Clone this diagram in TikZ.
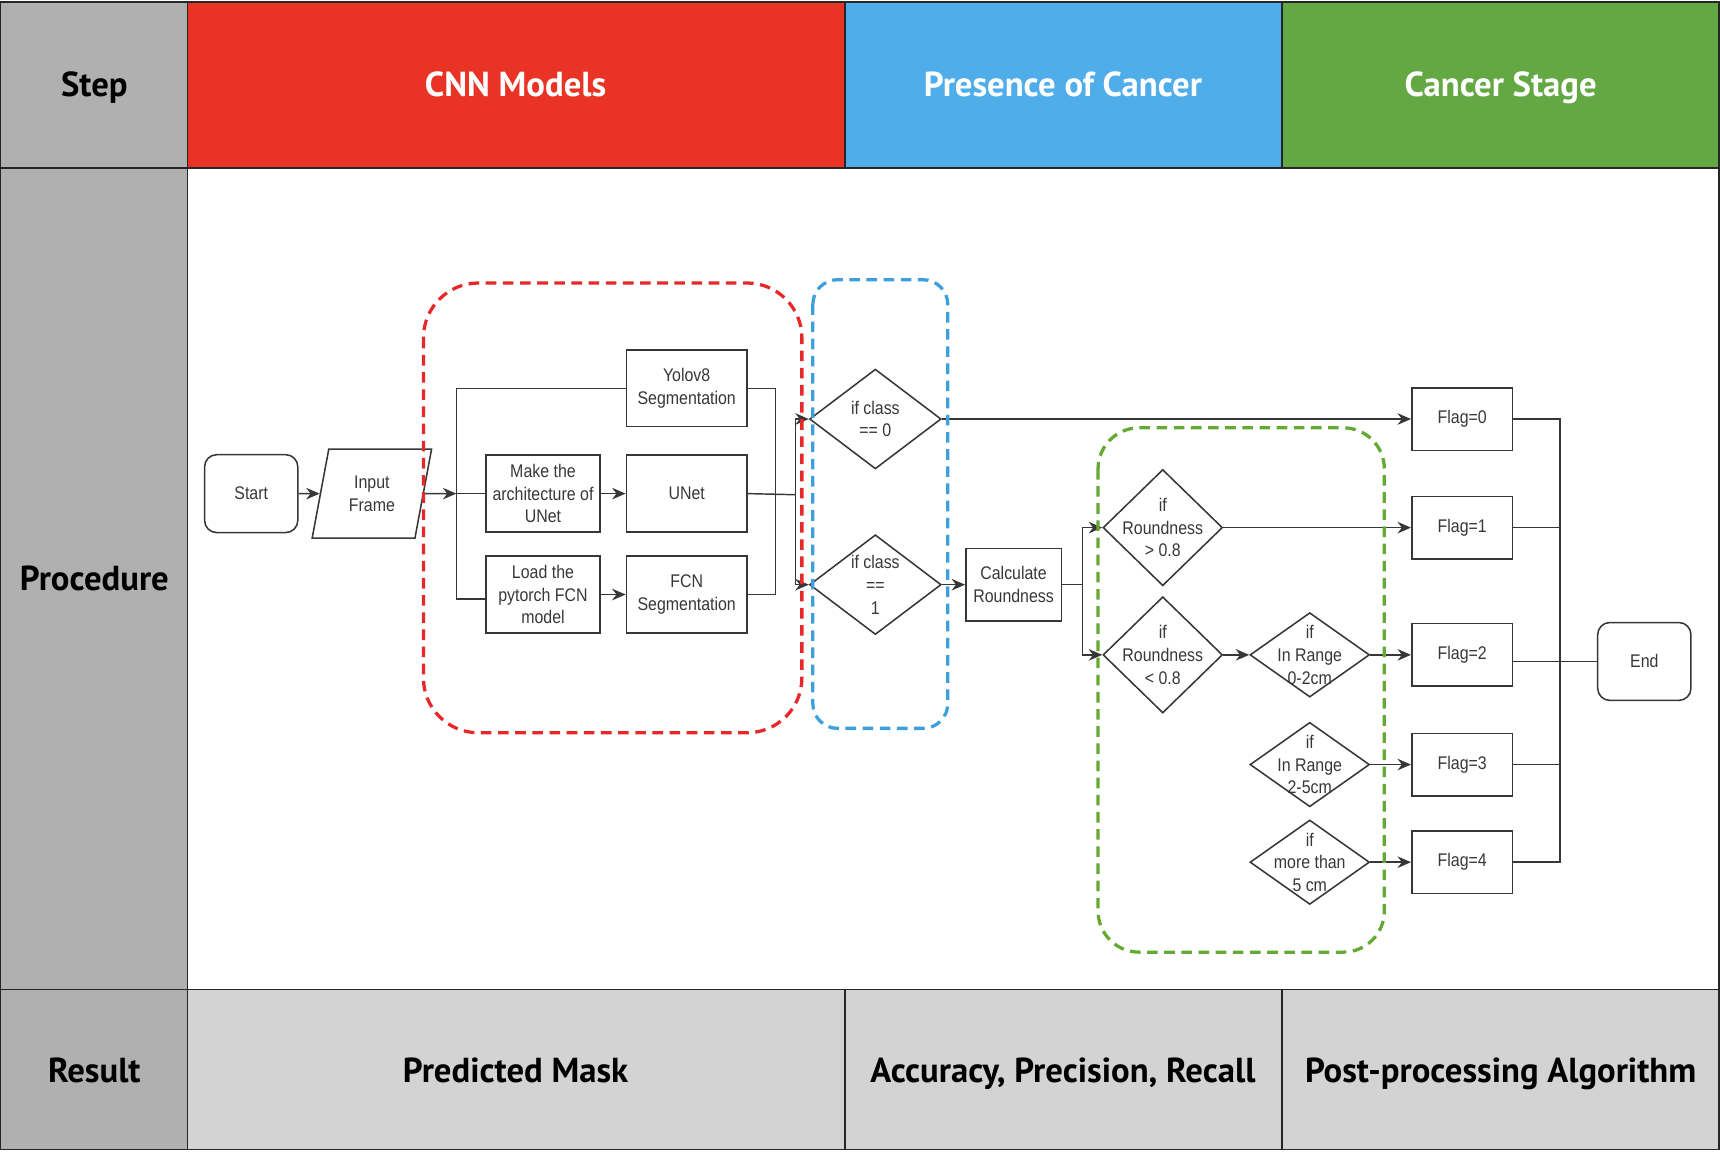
\documentclass[tikz,border=0pt]{standalone}
\usepackage{fontspec}
\newfontfamily\headfont{PT Sans}
\newfontfamily\flowfont[FakeStretch=0.87]{Liberation Sans}
\usetikzlibrary{shapes.geometric}
\usetikzlibrary{arrows.meta}
\usetikzlibrary{positioning}
\usetikzlibrary{scopes}

\definecolor{cnnred}{RGB}{233,51,36}
\definecolor{presblue}{RGB}{79,173,234}
\definecolor{stagegreen}{RGB}{100,168,68}
\definecolor{stepgray}{RGB}{176,176,176}
\definecolor{resgray}{RGB}{211,211,211}
\definecolor{ink}{RGB}{55,55,55}
\definecolor{grpred}{RGB}{232,40,40}
\definecolor{grpblue}{RGB}{60,160,220}
\definecolor{grpgreen}{RGB}{100,170,50}

\tikzset{
    cell/.style={draw=black!85, line width=0.9pt},
    head/.style={font=\headfont\bfseries\fontsize{18}{21}\selectfont, text height=0.72em, text depth=0.22em},
    txt/.style={font=\flowfont\fontsize{9.5}{11.8}\selectfont, text=ink, align=center},
    proc/.style={txt, rectangle, draw=ink, line width=0.8pt, minimum width=2.2cm, minimum height=1.4cm, inner sep=1pt},
    term/.style={proc, rounded corners=0.22cm, minimum width=1.7cm, minimum height=1.42cm},
    io/.style={txt, trapezium, trapezium left angle=76, trapezium right angle=104, trapezium stretches=true, draw=ink, line width=0.8pt, minimum width=2.18cm, minimum height=1.62cm, inner sep=0pt},
    dec/.style={diamond, draw=ink, line width=0.8pt, inner sep=0pt},
    lbl/.style={txt},
    flag/.style={proc, minimum width=1.84cm, minimum height=1.14cm},
    link/.style={draw=ink, line width=0.75pt},
    arr/.style={link, -{Stealth[length=7pt,width=6pt]}},
    grp/.style={line width=1.7pt, dash pattern=on 5.5pt off 3.4pt}
}

\begin{document}
\begin{tikzpicture}[x=0.02cm, y=-0.02cm]
    \useasboundingbox (0,0) rectangle (1568,1050);
    { []
        \fill[stepgray] (0,2) rectangle (171,1048);
        \fill[cnnred] (171,2) rectangle (770,153);
        \fill[presblue] (770,2) rectangle (1169,153);
        \fill[stagegreen] (1169,2) rectangle (1567,153);
        \fill[resgray] (171,902) rectangle (1567,1048);
        \draw[cell] (0.5,2) rectangle (1567,1048);
        \draw[cell, line width=1.3pt] (0,2) -- (1568,2);
        \draw[cell] (0,153) -- (1567,153);
        \draw[cell] (0,902) -- (1567,902);
        \draw[cell] (171,2) -- (171,1048);
        \draw[cell] (770,2) -- (770,153) (770,902) -- (770,1048);
        \draw[cell] (1169,2) -- (1169,153) (1169,902) -- (1169,1048);
        \node[head] (step) at (86,84) {Step};
        \node[head, text=white] (cnn) at (470,84) {CNN Models};
        \node[head, text=white] (pres) at (969,84) {Presence of Cancer};
        \node[head, text=white] (stage) at (1368,84) {Cancer Stage};
        \node[head] (proced) at (86,534) {Procedure};
        \node[head] (res) at (86,982) {Result};
        \node[head] (mask) at (470,982) {Predicted Mask};
        \node[head] (metr) at (969,982) {Accuracy, Precision, Recall};
        \node[head] (post) at (1368,982) {Post-processing Algorithm};
    }
    { []
        \node[term] (start) at (229,450) {Start};
        \node[io] (inp) at (339,450) {Input\\Frame};
        \node[proc] (yolo) at (626,354) {Yolov8\\Segmentation};
        \node[proc, minimum width=2.08cm] (arch) at (495,450) {Make the\\architecture of\\UNet};
        \node[proc] (unet) at (626,450) {UNet};
        \node[proc, minimum width=2.08cm] (load) at (495,542) {Load the\\pytorch FCN\\model};
        \node[proc] (fcn) at (626,542) {FCN\\Segmentation};
        \node[dec, minimum width=2.4cm, minimum height=1.82cm, label={[lbl]center:if class\\== 0}] (cls0) at (798,382) {};
        \node[dec, minimum width=2.4cm, minimum height=1.82cm, label={[lbl]center:if class\\==\\1}] (cls1) at (798,533) {};
        \node[proc, minimum width=1.74cm, minimum height=1.32cm] (calc) at (924,533) {Calculate\\Roundness};
        \node[dec, minimum width=2.18cm, minimum height=2.12cm, label={[lbl]center:if\\Roundness\\> 0.8}] (rnd0) at (1060,481) {};
        \node[dec, minimum width=2.18cm, minimum height=2.12cm, label={[lbl]center:if\\Roundness\\< 0.8}] (rnd1) at (1060,597) {};
        \node[dec, minimum width=2.18cm, minimum height=1.54cm, label={[lbl]center:if\\In Range\\0-2cm}] (rng0) at (1194,597) {};
        \node[dec, minimum width=2.18cm, minimum height=1.54cm, label={[lbl]center:if\\In Range\\2-5cm}] (rng1) at (1194,697) {};
        \node[dec, minimum width=2.18cm, minimum height=1.54cm, label={[lbl]center:if\\more than\\5 cm}] (rng2) at (1194,786) {};
        \node[flag] (flag0) at (1333,382) {Flag=0};
        \node[flag] (flag1) at (1333,481) {Flag=1};
        \node[flag] (flag2) at (1333,597) {Flag=2};
        \node[flag] (flag3) at (1333,697) {Flag=3};
        \node[flag] (flag4) at (1333,786) {Flag=4};
        \node[term] (end) at (1499,603) {End};

        \coordinate (split) at (416,450);
        \coordinate (join) at (707,451);
        \coordinate (fork) at (725,451);
        \coordinate (rfork) at (987,533);
        \coordinate (fjoin) at (1422,603);

        \draw[arr] (start) -- (inp);
        \draw[arr] (inp) -- (split);
        \draw[link] (split) |- (yolo.west);
        \draw[link] (split) -- (arch);
        \draw[link] (split) |- ([yshift=-0.08cm]load.west);
        \draw[arr] (arch) -- (unet);
        \draw[arr] (load) -- (fcn);
        \draw[link] (yolo.east) -| (join);
        \draw[link] (fcn.east) -| (join);
        \draw[link] (unet.east) -- (fork);
        \draw[arr] (fork) |- (cls0.west);
        \draw[arr] (fork) |- (cls1.west);
        \draw[arr] (cls0) -- (flag0);
        \draw[arr] (cls1) -- (calc);
        \draw[link] (calc) -- (rfork);
        \draw[arr] (rfork) |- (rnd0.west);
        \draw[arr] (rfork) |- (rnd1.west);
        \draw[arr] (rnd0) -- (flag1);
        \draw[arr] (rnd1) -- (rng0);
        \draw[arr] (rng0) -- (flag2);
        \draw[arr] (rng1) -- (flag3);
        \draw[arr] (rng2) -- (flag4);
        \draw[link] (flag0.east) -| (fjoin);
        \draw[link] (flag4.east) -| (fjoin);
        \draw[link] (flag1.east) -- (flag1.east -| fjoin);
        \draw[link] (flag3.east) -- (flag3.east -| fjoin);
        \draw[link] (end) -- (end -| flag2.east);
    }
    { [rounded corners]
        \draw[grp, grpred, rounded corners=1cm] (386,258) rectangle (731,668);
        \draw[grp, grpblue, rounded corners=0.45cm] (741,255) rectangle (864,664);
        \draw[grp, grpgreen, rounded corners=0.75cm] (1001,390) rectangle (1262,868);
    }
\end{tikzpicture}
\end{document}
